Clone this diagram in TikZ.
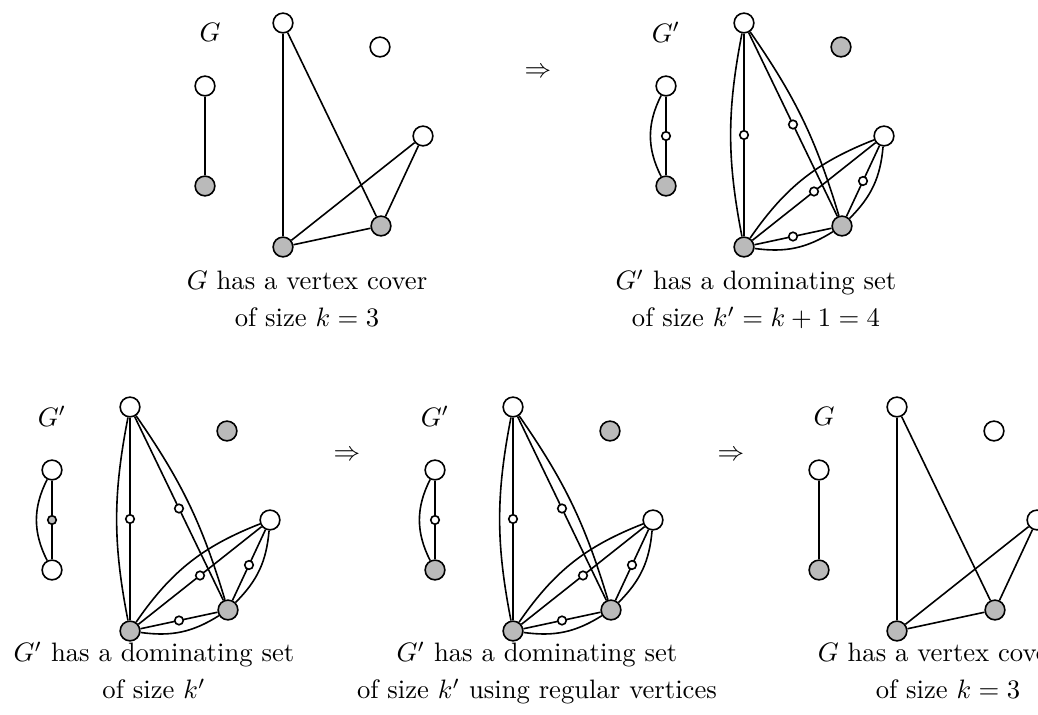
\documentclass[tikz,border=0pt]{standalone}
\usetikzlibrary{calc}
\tikzset{
  big/.style={circle,draw,line width=0.6pt,fill=white,minimum size=7.4pt,inner sep=0pt},
  bigg/.style={big,fill=black!27},
  small/.style={circle,draw,line width=0.6pt,fill=white,minimum size=3.2pt,inner sep=0pt},
  smallg/.style={small,fill=black!27},
  edge/.style={line width=0.6pt},
  lab/.style={anchor=base,inner sep=0pt},
}
% plain graph G
\newcommand\plaingraph[3]{%
  \begin{scope}[shift={(#2,#3)}]
    \node[big]  (#1A) at (0,0) {};
    \node[big]  (#1I) at (97,24) {};
    \node[big]  (#1P) at (-78,63) {};
    \node[bigg] (#1Q) at (-78,163) {};
    \node[big]  (#1R) at (140,113) {};
    \node[bigg] (#1C) at (98,203) {};
    \node[bigg] (#1B) at (0,224) {};
    \node (#1lab) at (-73,9) {$G$};
    \draw[edge] (#1P) -- (#1Q);
    \draw[edge] (#1A) -- (#1B);
    \draw[edge] (#1A) -- (#1C);
    \draw[edge] (#1R) -- (#1B);
    \draw[edge] (#1R) -- (#1C);
    \draw[edge] (#1B) -- (#1C);
  \end{scope}}
% transformed graph G'
% #4: style of left top, #5: style of middle small, #6: style of left bottom
\newcommand\primegraph[6]{%
  \begin{scope}[shift={(#2,#3)}]
    \node[big]  (#1A) at (0,0) {};
    \node[bigg] (#1I) at (97,24) {};
    \node[#4]   (#1P) at (-78,63) {};
    \node[#6]   (#1Q) at (-78,163) {};
    \node[big]  (#1R) at (140,113) {};
    \node[bigg] (#1C) at (98,203) {};
    \node[bigg] (#1B) at (0,224) {};
    \node (#1lab) at (-78,9) {$G'$};
    \draw[edge] (#1P) -- node[#5] (#1pq) {} (#1Q);
    \draw[edge] (#1P) to[bend right=27] (#1Q);
    \draw[edge] (#1A) -- node[small] (#1ab) {} (#1B);
    \draw[edge] (#1A) to[bend right=11] (#1B);
    \draw[edge] (#1A) -- node[small] (#1ac) {} (#1C);
    \draw[edge] (#1A) to[bend left=9] (#1C);
    \draw[edge] (#1B) -- node[small] (#1br) {} (#1R);
    \draw[edge] (#1B) to[bend left=17] (#1R);
    \draw[edge] (#1C) -- node[small] (#1cr) {} (#1R);
    \draw[edge] (#1C) to[bend right=20] (#1R);
    \draw[edge] (#1B) -- node[small] (#1bc) {} (#1C);
    \draw[edge] (#1B) to[bend right=20] (#1C);
  \end{scope}}
\begin{document}
\begin{tikzpicture}[x=0.375pt,y=-0.375pt]
  \useasboundingbox (0,0) rectangle (1038,715);
  \clip (0,0) rectangle (1038,715);
  % top row
  \plaingraph{a}{283}{23}
  \primegraph{b}{744}{23}{big}{small}{bigg}
  \node (arr1) at (538,73) {$\Rightarrow$};
  \node[lab] (capa1) at (307,290) {$G$ has a vertex cover};
  \node[lab] (capa2) at (307,327) {of size $k=3$};
  \node[lab] (capb1) at (756,290) {$G'$ has a dominating set};
  \node[lab] (capb2) at (756,327) {of size $k'=k+1=4$};
  % bottom row
  \primegraph{c}{130}{407}{big}{smallg}{big}
  \primegraph{d}{513}{407}{big}{small}{bigg}
  \plaingraph{e}{897}{407}
  \node (arr2) at (347,456) {$\Rightarrow$};
  \node (arr3) at (731,456) {$\Rightarrow$};
  \node[lab] (capc1) at (154,662) {$G'$ has a dominating set};
  \node[lab] (capc2) at (154,699) {of size $k'$};
  \node[lab] (capd1) at (537,662) {$G'$ has a dominating set};
  \node[lab] (capd2) at (537,699) {of size $k'$ using regular vertices};
  \node[lab] (cape1) at (938,662) {$G$ has a vertex cover};
  \node[lab] (cape2) at (948,699) {of size $k=3$};
\end{tikzpicture}
\end{document}
